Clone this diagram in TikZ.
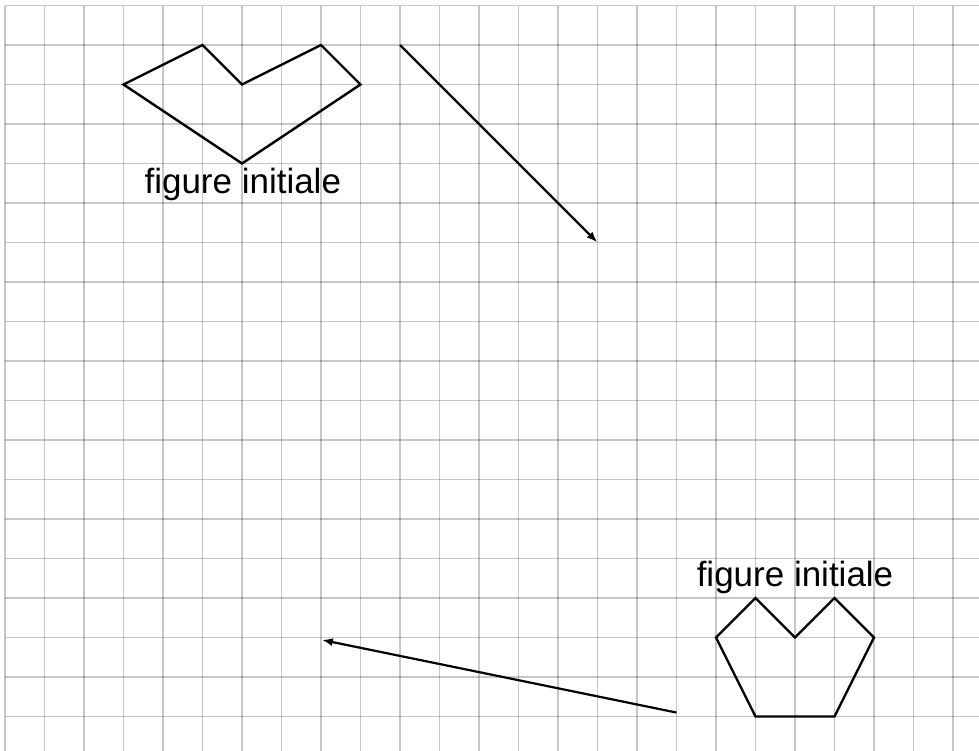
\documentclass[tikz,border=0pt]{standalone}
\usepackage{fontspec}
\setmainfont{Liberation Sans}
\usetikzlibrary{arrows.meta}
\begin{document}
\begin{tikzpicture}[x=39.5pt,y=-39.5pt,
  gridline/.style={draw=black,draw opacity=0.22,line width=1.2pt},
  figline/.style={draw=black,line width=2.4pt,line join=miter},
  vec/.style={draw=black,line width=2.2pt,-{Latex[length=11pt,width=8pt]}},
  lbl/.style={font=\fontsize{35}{38}\selectfont,anchor=base,inner sep=0pt}]
\useasboundingbox (-0.1266,-0.1392) rectangle (24.658,18.873);
\fill[white] (-0.1266,-0.1392) rectangle (24.658,18.873);
% grid
\foreach \i in {0,...,24} \draw[gridline] (\i,0) -- (\i,18.9);
\foreach \j in {0,...,18} \draw[gridline] (0,\j) -- (24.7,\j);
% first figure
\draw[figline] (3,2) -- (5,1) -- (6,2) -- (8,1) -- (9,2) -- (6,4) -- cycle;
\node[lbl] (t1) at (6.02,4.747) {figure initiale};
% second figure
\draw[figline] (18,16) -- (19,15) -- (20,16) -- (21,15) -- (22,16) -- (21,18) -- (19,18) -- cycle;
\node[lbl] (t2) at (20,14.7) {figure initiale};
% arrows
\coordinate (a1s) at (10,1);
\coordinate (a1e) at (15,6);
\draw[vec] (a1s) -- (a1e);
\coordinate (a2s) at (17,17.9);
\coordinate (a2e) at (8.02,16.06);
\draw[vec] (a2s) -- (a2e);
\end{tikzpicture}
\end{document}
